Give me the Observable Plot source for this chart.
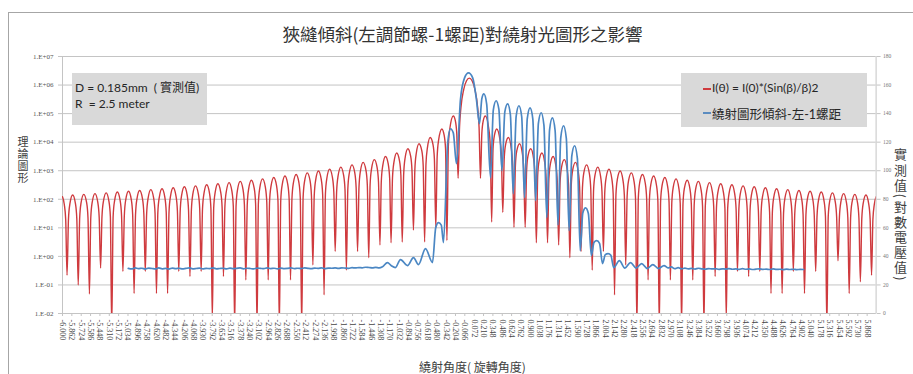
<!DOCTYPE html>
<html><head><meta charset="utf-8">
<script src="https://cdn.jsdelivr.net/npm/d3@7"></script>
<script src="https://cdn.jsdelivr.net/npm/@observablehq/plot@0.6"></script>
<style>
body{margin:0;background:#fff;}
#wrap{position:relative;width:913px;height:374px;overflow:hidden;font-family:"Noto Sans CJK TC",sans-serif;color:#404040;}
#frame{position:absolute;left:8px;top:12px;width:1000px;height:400px;border-left:1px solid #a6a6a6;border-top:1px solid #a6a6a6;}
#chart{position:absolute;left:0;top:0;}
#title{position:absolute;left:0;width:925px;top:23px;text-align:center;font-size:17.5px;line-height:22px;color:#333;}
#ylab{position:absolute;left:16px;top:136px;writing-mode:vertical-rl;font-size:11px;letter-spacing:1px;line-height:13px;color:#404040;}
#y2lab{position:absolute;left:893px;top:148px;writing-mode:vertical-rl;font-size:13px;letter-spacing:2.2px;line-height:15px;color:#404040;}
#xlab{position:absolute;left:0;width:945px;top:359px;text-align:center;font-size:12px;line-height:16px;color:#404040;}
.box{position:absolute;background:#d9d9d9;font-family:Lato,"Noto Sans CJK TC",sans-serif;font-size:12px;color:#262626;}
#note{left:72px;top:73px;width:135px;height:52px;}
#note div{position:absolute;left:3px;white-space:nowrap;}
#legend{left:681px;top:73px;width:186px;height:54px;}
#legend div{position:absolute;left:31px;white-space:nowrap;}
.sw{position:absolute;left:-9px;top:8px;width:8px;height:1.5px;}
</style></head><body>
<div id="wrap">
  <div id="frame"></div>
  <div id="chart"></div>
  <div id="title">狹縫傾斜(左調節螺-1螺距)對繞射光圖形之影響</div>
  <div id="ylab">理論圖形</div>
  <div id="y2lab">實測值(對數電壓值)</div>
  <div id="xlab">繞射角度( 旋轉角度)</div>
  <div class="box" id="note">
    <div style="top:5px">D = 0.185mm&nbsp; ( 實測值)</div>
    <div style="top:23px">R&nbsp; = 2.5 meter</div>
  </div>
  <div class="box" id="legend">
    <div style="top:7px"><span class="sw" style="background:#cf3a3e"></span>I(θ) = I(0)*(Sin(β)/β)2</div>
    <div style="top:31px;font-size:12.5px"><span class="sw" style="background:#5b8cc0"></span>繞射圖形傾斜-左-1螺距</div>
  </div>
</div>
<script>
// ---------- axes / ticks ----------
const decades = [1e-2, 1e-1, 1, 1e1, 1e2, 1e3, 1e4, 1e5, 1e6, 1e7];
const leftLabels = ["1.E-02","1.E-01","1.E+00","1.E+01","1.E+02","1.E+03","1.E+04","1.E+05","1.E+06","1.E+07"];
const rightLabels = ["0","20","40","60","80","100","120","140","160","180"];
const xLabels = ["-6.000","-5.862","-5.724","-5.586","-5.448","-5.310","-5.172","-5.034","-4.896","-4.758","-4.620","-4.482","-4.344","-4.206","-4.068","-3.930","-3.792","-3.654","-3.516","-3.378","-3.240","-3.102","-2.964","-2.826","-2.688","-2.550","-2.412","-2.274","-2.136","-1.998","-1.860","-1.722","-1.584","-1.446","-1.308","-1.170","-1.032","-0.894","-0.756","-0.618","-0.480","-0.342","-0.204","-0.066","0.072","0.210","0.348","0.486","0.624","0.762","0.900","1.038","1.176","1.314","1.452","1.590","1.728","1.866","2.004","2.142","2.280","2.418","2.556","2.694","2.832","2.970","3.108","3.246","3.384","3.522","3.660","3.798","3.936","4.074","4.212","4.350","4.488","4.626","4.764","4.902","5.040","5.178","5.316","5.454","5.592","5.730","5.868"];

// ---------- theoretical curve I(θ): |angle| (deg); each lobe row ends at a minimum ----------
const redAngle = [0, 0.041,0.082,0.124,0.144,0.165,
 0.185,0.206,0.236,0.288,0.309,0.330, 0.350,0.371,0.405,0.453,0.474,0.494, 0.515,0.536,0.577,0.618,0.639,0.659,
 0.680,0.700,0.742,0.783,0.803,0.824, 0.845,0.865,0.906,0.948,0.968,0.989, 1.009,1.030,1.071,1.112,1.133,1.154,
 1.174,1.195,1.236,1.277,1.298,1.318, 1.339,1.360,1.401,1.442,1.463,1.483, 1.504,1.524,1.566,1.607,1.627,1.648,
 1.669,1.689,1.730,1.772,1.792,1.813, 1.833,1.854,1.895,1.936,1.957,1.978, 1.998,2.019,2.060,2.101,2.122,2.142,
 2.163,2.184,2.225,2.266,2.287,2.307, 2.328,2.348,2.390,2.431,2.451,2.472, 2.493,2.513,2.554,2.596,2.616,2.637,
 2.657,2.678,2.719,2.760,2.781,2.802, 2.822,2.843,2.884,2.925,2.946,2.966, 2.987,3.008,3.049,3.090,3.111,3.131,
 3.152,3.172,3.214,3.255,3.275,3.296, 3.317,3.337,3.378,3.420,3.440,3.461, 3.481,3.502,3.543,3.584,3.605,3.626,
 3.646,3.667,3.708,3.749,3.770,3.790, 3.811,3.832,3.873,3.914,3.935,3.955, 3.976,3.996,4.038,4.079,4.099,4.120,
 4.141,4.161,4.202,4.244,4.264,4.285, 4.305,4.326,4.367,4.408,4.429,4.450, 4.470,4.491,4.532,4.573,4.594,4.614,
 4.635,4.656,4.697,4.738,4.759,4.779, 4.800,4.820,4.862,4.903,4.923,4.944, 4.965,4.985,5.026,5.068,5.088,5.109,
 5.129,5.150,5.191,5.232,5.253,5.274, 5.294,5.315,5.356,5.397,5.418,5.438, 5.459,5.480,5.521,5.562,5.583,5.603,
 5.624,5.644,5.686,5.727,5.747,5.768, 5.789,5.809,5.850,5.891,5.912,5.933, 5.953,5.974,6.000];
// intensities at those angles, right half (θ > 0)
const redRight = [1750000, 1418000,709000,157600,33900,540,
 20510,56700,82600,28900,7384,16, 5749,17500,28800,11700,3141,35, 2658,8390,14500,6300,1729,10.5,
 1526,4910,8760,3930,1092,10.5, 988,3220,5860,2680,752,3, 692,2270,4200,1950,549,3,
 511,1690,3150,1480,419,2.5, 393,1300,2450,1160,330,0.9, 312,1036,1965,933,266,1.5,
 253,844,1608,767,219,0.33, 210,700,1341,642,184,1.5, 177,591,1135,545,157,0.045,
 151,505,973,469,135,0.5, 130,437,843,407,117,0.003, 113,381,738,357,103,0.15,
 99.8,336,651,316,91.2,0.003, 88.5,298,579,281,81.2,0.15, 79,266,518,252,72.9,0.003,
 71,239,466,227,65.7,0.15, 64.1,216,422,206,59.6,0.003, 58.2,196,384,187,54.3,0.2,
 53,179,350,171,49.6,0.006, 48.5,164,321,157,45.5,0.3, 44.6,151,295,145,42,0.2,
 41.1,139,273,134,38.8,0.3, 38,129,252,124,35.9,0.05, 35.3,119,234,115,33.4,0.05,
 32.8,111,218,107,31.1,0.3, 30.6,104,204,100,29.1,0.05, 28.6,97,191,94,27.2,0.3,
 26.8,91,179,88,25.6,0.003, 25.2,85,168,83,24,0.7, 23.7,80,158,78,22.6,0.05,
 22.3,76,149,73,21.3,0.13, 21,71,141,69,20.2,0.22, 19.9,67,123];
// intensities at the mirrored angles, left half (θ < 0)
const redLeft = [1750000, 1418000,709000,157600,33900,540,
 20510,56700,82600,28900,7384,3.6, 5749,17500,28800,11700,3141,9.8, 2658,8390,14500,6300,1729,3.2,
 1526,4910,8760,3930,1092,8.3, 988,3220,5860,2680,752,3.2, 692,2270,4200,1950,549,3,
 511,1690,3150,1480,419,2.5, 393,1300,2450,1160,330,0.9, 312,1036,1965,933,266,1.5,
 253,844,1608,767,219,0.33, 210,700,1341,642,184,1.5, 177,591,1135,545,157,0.045,
 151,505,973,469,135,0.5, 130,437,843,407,117,0.003, 113,381,738,357,103,0.15,
 99.8,336,651,316,91.2,0.003, 88.5,298,579,281,81.2,0.15, 79,266,518,252,72.9,0.003,
 71,239,466,227,65.7,0.15, 64.1,216,422,206,59.6,0.003, 58.2,196,384,187,54.3,0.2,
 53,179,350,171,49.6,0.006, 48.5,164,321,157,45.5,0.3, 44.6,151,295,145,42,0.2,
 41.1,139,273,134,38.8,0.3, 38,129,252,124,35.9,0.05, 35.3,119,234,115,33.4,0.05,
 32.8,111,218,107,31.1,0.3, 30.6,104,204,100,29.1,0.05, 28.6,97,191,94,27.2,0.3,
 26.8,91,179,88,25.6,0.003, 25.2,85,168,83,24,0.39, 23.7,80,158,78,22.6,0.048,
 22.3,76,149,73,21.3,0.1, 21,71,141,69,20.2,0.22, 19.9,67,123];

// ---------- measured curve (right axis, log-voltage units) ----------
const blueAngle = [
 -5.03,-4.98,-4.93,-4.88,-4.83,-4.78,-4.73,-4.68,-4.63,-4.58,-4.53,-4.48,-4.43,-4.38,-4.33,-4.28,-4.23,-4.18,-4.13,-4.08,
 -4.03,-3.98,-3.93,-3.88,-3.83,-3.78,-3.73,-3.68,-3.63,-3.58,-3.53,-3.48,-3.43,-3.38,-3.33,-3.28,-3.23,-3.18,-3.13,-3.08,
 -3.03,-2.98,-2.93,-2.88,-2.83,-2.78,-2.73,-2.68,-2.63,-2.58,-2.53,-2.48,-2.43,-2.38,-2.33,-2.28,-2.23,-2.18,-2.13,-2.08,
 -2.03,-1.98,-1.93,-1.88,-1.83,-1.78,-1.73,-1.68,-1.63,-1.58,-1.53,-1.48,-1.43,-1.38,-1.33,-1.28,
 -1.207,-1.15,-1.090,-1.015,-0.912,-0.823,-0.749,-0.646,-0.543,-0.495,-0.454,-0.413,-0.381,-0.318,-0.277,-0.236,-0.189,
 -0.13,-0.07,-0.012,0.05,0.105,0.150,
 0.185,0.215,0.256,0.313, 0.354,0.395,0.436,0.482, 0.524,0.565,0.606,0.648, 0.691,0.732,0.773,0.814,
 0.855,0.896,0.937,0.978, 1.019,1.060,1.101,1.143, 1.184,1.225,1.266,1.308, 1.349,1.390,1.431,1.472,
 1.512,1.553,1.594,1.636, 1.674,1.715,1.756,1.800, 1.839,1.880,1.921,1.965, 2.006,2.047,2.088,2.130,
 2.213,2.295,2.378,2.460,2.542,2.625,2.707,2.790,2.872,
 2.93,2.98,3.03,3.08,3.13,3.18,3.23,3.28,3.33,3.38,3.43,3.48,3.53,3.58,3.63,3.68,3.73,3.78,3.83,3.88,
 3.93,3.98,4.03,4.08,4.13,4.18,4.23,4.28,4.33,4.38,4.43,4.48,4.53,4.58,4.63,4.68,4.73,4.78,4.83,4.88,4.93];
const blueValue = [
 31.6,31.2,31.9,31.4,31.7,31.1,31.8,31.5,31.2,31.9,31.3,31.6,31.1,31.8,31.4,31.7,31.2,31.6,31.9,31.3,
 31.5,31.8,31.2,31.6,31.4,31.9,31.3,31.5,31.7,31.2,31.8,31.4,31.6,31.9,31.3,31.7,31.5,31.2,31.8,31.6,
 31.4,31.9,31.5,31.7,31.3,31.8,31.5,31.6,31.9,31.4,31.7,31.5,31.9,31.6,31.4,31.8,31.6,31.9,31.5,31.8,
 31.7,31.9,31.6,32.0,31.8,31.6,32.1,31.9,32.2,32.0,32.4,32.2,32.0,32.3,32.0,32.8,
 35.7,33.5,32.2,37.8,33.6,39.2,34.3,45.5,35.7,60.2,63.6,61.9,49.7,119.8,129.4,126.5,104.9,
 150,165,168.5,165,150,132.9,
 150.5,153.8,146.8,95.1, 142.5,149,143.1,100, 141.2,146.8,139.3,83.9, 138.1,145.5,137.8,81.1,
 136.5,144,136.2,79, 133.2,140.6,131.8,67.1, 128.6,137,128,62, 123.2,131.5,122.7,58,
 110.4,117.5,108.7,44, 70.4,74,70,40.6, 49.8,51,49.1,35, 41.2,42,40.8,32.2,
 37,31.8,35.7,31.8,35,31.5,34.3,31.5,33.6,
 31.9,32.6,31.4,32.1,31.3,31.8,31.2,31.6,31.1,31.7,31.3,31.0,31.5,31.2,31.4,30.9,31.3,31.1,31.5,31.0,
 31.2,30.9,31.4,31.0,31.2,30.8,31.1,31.3,30.9,31.1,30.8,31.2,30.9,31.0,30.7,31.1,30.8,31.0,30.7,30.9,30.8];

// ---------- build tables ----------
const red = [];
for (let i = redAngle.length - 1; i > 0; i--) red.push({a: -redAngle[i], v: redLeft[i]});
for (let i = 0; i < redAngle.length; i++) red.push({a: redAngle[i], v: redRight[i]});
const toLeftScale = v => Math.pow(10, v / 20 - 2); // right axis 0..180 ↔ left axis 1e-2..1e7
const blue = blueAngle.map((a, i) => ({a, v: toLeftScale(blueValue[i])}));
const leftFmt = new Map(decades.map((d, i) => [d, leftLabels[i]]));
const rightFmt = new Map(decades.map((d, i) => [d, rightLabels[i]]));
const xTicks = xLabels.map(Number);
const xFmt = new Map(xTicks.map((d, i) => [d, xLabels[i]]));

const RED = "#cf3a3e", BLUE = "#4b87c3", GRID = "#c4c4c4";
const chart = Plot.plot({
  width: 913, height: 374,
  marginLeft: 62, marginRight: 37.4, marginTop: 56, marginBottom: 61,
  x: {domain: [-6, 6], axis: null},
  y: {type: "log", domain: [0.01, 1e7], axis: null},
  style: {background: "transparent", overflow: "visible"},
  marks: [
    Plot.gridY(decades, {stroke: GRID, strokeOpacity: 1}),
    Plot.ruleY([0.01], {stroke: GRID}),
    Plot.ruleX([-6], {stroke: GRID}),
    Plot.ruleX([6], {stroke: GRID}),
    Plot.axisY({ticks: decades, tickFormat: d => leftFmt.get(d), tickSize: 4, tickPadding: 5, stroke: GRID,
      fontSize: 7, fontFamily: "Liberation Serif", fill: "#555", label: null}),
    Plot.axisY({anchor: "right", ticks: decades, tickFormat: d => rightFmt.get(d), tickSize: 4, tickPadding: 3, stroke: GRID,
      fontSize: 5.5, fontFamily: "Liberation Serif", fill: "#777", label: null}),
    Plot.axisX({ticks: xTicks, tickFormat: d => xFmt.get(d), tickRotate: 90, tickSize: 3, tickPadding: 3,
      stroke: GRID, fontSize: 8, fontFamily: "Liberation Serif", fill: "#444", label: null}),
    Plot.line(red, {x: "a", y: "v", stroke: RED, strokeWidth: 1.4, curve: "monotone-x", clip: true}),
    Plot.line(blue, {x: "a", y: "v", stroke: BLUE, strokeWidth: 1.7, curve: "monotone-x", clip: true})
  ]
});
document.getElementById("chart").appendChild(chart);
</script>
</body></html>
